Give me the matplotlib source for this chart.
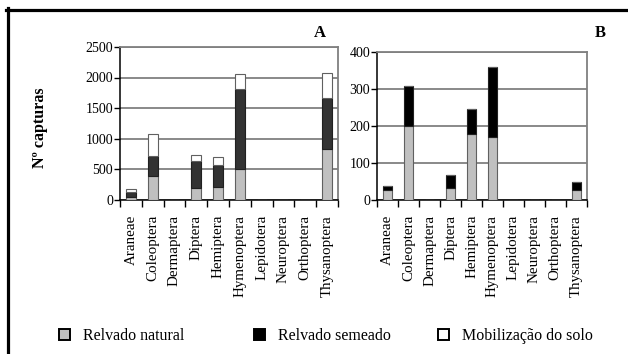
import numpy as np
import matplotlib.pyplot as plt
from matplotlib.lines import Line2D
from matplotlib.patches import Patch

#DATA

categories = ['Araneae', 'Coleoptera', 'Dermaptera', 'Diptera', 'Hemiptera',
              'Hymenoptera', 'Lepidotera', 'Neuroptera', 'Orthoptera', 'Thysanoptera']

a_natural = [45, 388, 0, 190, 207, 493, 0, 0, 0, 826]
a_semeado = [70, 323, 0, 444, 356, 1318, 0, 0, 0, 842]
a_mobilizacao = [50, 356, 0, 93, 127, 242, 0, 0, 0, 401]

b_natural = [25, 199, 0, 30, 177, 170, 0, 0, 0, 27]
b_semeado = [11, 109, 0, 36, 69, 189, 0, 0, 0, 21]
b_mobilizacao = [0, 0, 0, 0, 0, 0, 0, 0, 0, 0]

a_ticks = [0, 500, 1000, 1500, 2000, 2500]
b_ticks = [0, 100, 200, 300, 400]

legend_labels = ['Relvado natural', 'Relvado semeado', 'Mobilização do solo']

#STYLE

plt.rcParams['font.family'] = ['Liberation Serif', 'DejaVu Serif']

color_natural = '#c0c0c0'
color_semeado_a = '#333333'
color_semeado_b = '#000000'
color_mob = '#ffffff'
grid_color = '#808080'
bar_width = 0.45


def draw_panel(ax, natural, semeado, mobilizacao, semeado_color, ticks):

    x = np.arange(len(categories))
    natural = np.array(natural)
    semeado = np.array(semeado)
    mobilizacao = np.array(mobilizacao)

    ax.bar(x, natural, width=bar_width, color=color_natural, edgecolor='#606060', linewidth=0.8, zorder=3)
    ax.bar(x, semeado, bottom=natural, width=bar_width, color=semeado_color, edgecolor='#202020', linewidth=0.8, zorder=3)
    ax.bar(x, mobilizacao, bottom=natural + semeado, width=bar_width, color=color_mob, edgecolor='#606060', linewidth=0.8, zorder=3)

    ax.set_xlim(-0.5, len(categories) - 0.5)
    ax.set_ylim(ticks[0], ticks[-1])
    ax.set_yticks(ticks)
    ax.yaxis.grid(True, color=grid_color, linewidth=1.3, zorder=0)

    ax.set_xticks(x)
    ax.set_xticklabels(categories, rotation=90, fontsize=10.8)
    ax.set_xticks(np.arange(len(categories) + 1) - 0.5, minor=True)
    ax.tick_params(axis='x', which='major', length=0, pad=11)
    ax.tick_params(axis='x', which='minor', length=5, width=1, color='black', direction='out')
    ax.tick_params(axis='y', length=4, width=1, direction='out', labelsize=10, pad=1)

    for side in ['left', 'bottom']:
        ax.spines[side].set_color('black')
        ax.spines[side].set_linewidth(1.1)
    for side in ['right', 'top']:
        ax.spines[side].set_color(grid_color)
        ax.spines[side].set_linewidth(1.3)


fig = plt.figure(figsize=(6.28, 3.54), dpi=100)

ax_a = fig.add_axes([120 / 628, 1 - 199.5 / 354, 218 / 628, 152.5 / 354])
ax_b = fig.add_axes([377.3 / 628, 1 - 199.5 / 354, 209.4 / 628, 147.2 / 354])

draw_panel(ax_a, a_natural, a_semeado, a_mobilizacao, color_semeado_a, a_ticks)
draw_panel(ax_b, b_natural, b_semeado, b_mobilizacao, color_semeado_b, b_ticks)

fig.text(320 / 628, 1 - 33 / 354, 'A', ha='center', va='center', fontsize=12, fontweight='bold')
fig.text(600 / 628, 1 - 33 / 354, 'B', ha='center', va='center', fontsize=12, fontweight='bold')

fig.text(40 / 628, 1 - 128 / 354, 'Nº capturas', rotation=90, ha='center', va='center',
         fontsize=11.5, fontweight='bold')

# frame lines (top and left only)
fig.add_artist(Line2D([6 / 628, 1], [1 - 9.5 / 354, 1 - 9.5 / 354], color='black', linewidth=2.3,
                      transform=fig.transFigure))
fig.add_artist(Line2D([7.5 / 628, 7.5 / 628], [0, 1 - 8 / 354], color='black', linewidth=2.3,
                      transform=fig.transFigure))

# legend, one entry per box so the uneven spacing can be kept
handles = [
    Patch(facecolor=color_natural, edgecolor='black', linewidth=1.4),
    Patch(facecolor='black', edgecolor='black', linewidth=1.4),
    Patch(facecolor='white', edgecolor='black', linewidth=1.4),
]
legend_x = [59, 254, 438]
for handle, label, lx in zip(handles, legend_labels, legend_x):
    leg = fig.legend([handle], [label], loc='center left', bbox_to_anchor=(lx / 628, 1 - 336 / 354),
                     frameon=False, fontsize=11.5, handlelength=0.68, handleheight=0.75,
                     handletextpad=0.8, borderaxespad=0, borderpad=0)

fig.savefig('out.png', dpi=100)
